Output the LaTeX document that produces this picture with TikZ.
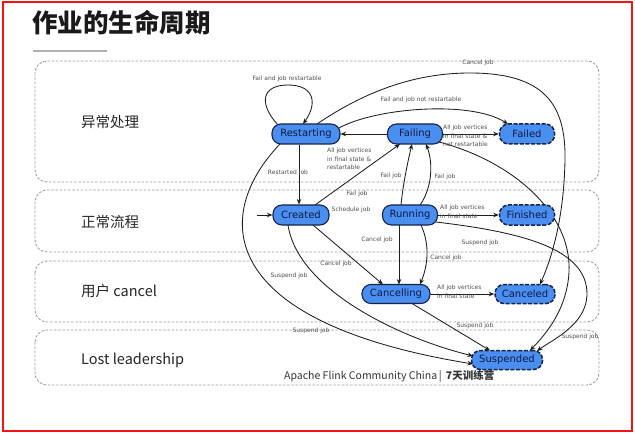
\documentclass[tikz,border=0pt]{standalone}
\usepackage{fontspec}
\setmainfont{DejaVu Sans}
\newfontfamily\cjk{Noto Sans CJK SC}
\usetikzlibrary{arrows.meta,calc}
\definecolor{stblue}{RGB}{74,142,240}
\definecolor{navy}{RGB}{22,36,74}
\definecolor{navytext}{RGB}{14,26,70}
\definecolor{edgec}{RGB}{30,30,30}
\definecolor{lblgray}{RGB}{80,80,80}
\definecolor{bandgray}{RGB}{160,160,160}
\definecolor{framered}{RGB}{240,20,20}
\definecolor{ruleg}{RGB}{175,175,175}
\pgfdeclarelayer{whitelayer}
\pgfdeclarelayer{bandlayer}
\pgfdeclarelayer{edgelayer}
\pgfsetlayers{whitelayer,bandlayer,edgelayer,main}
\tikzset{
  state/.style={draw=navy, line width=1.1pt, fill=stblue, rounded corners=9pt,
    minimum height=20pt, inner sep=0pt, text=navytext,
    font=\fontsize{10}{11}\selectfont},
  finalstate/.style={state, dash pattern=on 4pt off 1.6pt, line width=1.5pt},
  arr/.style={-{Stealth[length=5.5pt,width=4.5pt]}, line width=0.85pt, draw=edgec},
  lbl/.style={font=\fontsize{6}{8.4}\selectfont, text=lblgray, inner sep=0pt, align=left},
  band/.style={draw=bandgray, line width=0.9pt, dash pattern=on 2.6pt off 1.6pt, rounded corners=12pt},
  bandlabel/.style={anchor=west, font=\cjk\fontsize{14.5}{16}\selectfont, text=black!85, inner sep=0pt}
}
\begin{document}
\begin{tikzpicture}[x=1pt,y=-1pt]
\useasboundingbox (0,0) rectangle (635,433);
\begin{pgfonlayer}{whitelayer}
\fill[white] (0,0) rectangle (635,433);
\end{pgfonlayer}

% title
\node[anchor=west, inner sep=0pt, font=\cjk\bfseries\fontsize{25.5}{28}\selectfont, text=black!90] (title) at (32,23) {作业的生命周期};
\draw[ruleg, line width=2pt] (33,51) -- (107,51);

% bands
\begin{pgfonlayer}{bandlayer}
\draw[band] (35,61) rectangle (599,182);
\draw[band] (35,190) rectangle (599,252);
\draw[band] (35,261) rectangle (599,322);
\draw[band] (35,330) rectangle (599,385);
\end{pgfonlayer}

\node[bandlabel] (b1) at (81,122) {异常处理};
\node[bandlabel] (b2) at (81,222) {正常流程};
\node[bandlabel] (b3) at (81,291) {用户 cancel};
\node[bandlabel] (b4) at (81,360) {Lost leadership};

% states
\node[state, minimum width=68pt] (Restarting) at (306,134) {Restarting};
\node[state, minimum width=55pt] (Failing) at (415,134) {Failing};
\node[finalstate, minimum width=55pt] (Failed) at (527,134) {Failed};
\node[state, minimum width=56pt] (Created) at (301,215) {Created};
\node[state, minimum width=55pt] (Running) at (410,215) {Running};
\node[finalstate, minimum width=55pt] (Finished) at (527,215) {Finished};
\node[state, minimum width=68pt, minimum height=19pt] (Cancelling) at (396,294) {Cancelling};
\node[finalstate, minimum width=60pt, minimum height=19pt] (Canceled) at (525,294) {Canceled};
\node[finalstate, minimum width=71pt, minimum height=19pt] (Suspended) at (507,360) {Suspended};

\coordinate (init) at (257,215);

\begin{pgfonlayer}{edgelayer}
\draw[arr] (init) -- (Created);
% self loop
\draw[arr] ($(Restarting)+(-28,-9)$) .. controls (258,103) and (262,85) .. (288,85)
  .. controls (314,85) and (318,103) .. ($(Restarting)+(-3,-10)$);
\draw[arr] (Failing) -- (Restarting);
\draw[arr] ($(Restarting.south)+(-7,0)$) -- ($(Created.north)+(-2,0)$);
\draw[arr] ($(Created)+(14,-10)$) -- ($(Failing)+(-15,10)$);
\draw[arr] ($(Running)+(-9,-10)$) .. controls (403,185) and (407,165) .. ($(Failing)+(-3,10)$);
\draw[arr] ($(Running)+(10,-10)$) .. controls (431,190) and (434,165) .. ($(Failing)+(11,10)$);
\draw[arr] ($(Running)+(-11,10)$) -- ($(Cancelling)+(3,-9.5)$);
\draw[arr] ($(Running)+(11,10)$) .. controls (430,245) and (428,265) .. ($(Cancelling)+(24,-9.5)$);
\draw[arr] ($(Created)+(12,10)$) -- ($(Cancelling)+(-13,-9.5)$);
\draw[arr] ($(Created)+(-13,10)$) .. controls (298,290) and (400,338) .. ($(Suspended)+(-34,-4)$);
\draw[arr] ($(Restarting)+(-26,10)$) .. controls (212,215) and (215,322) .. ($(Suspended)+(-34,4)$);
\draw[arr] ($(Cancelling)+(16,9.5)$) -- ($(Suspended)+(-17,-9.5)$);
\draw[arr] ($(Restarting)+(33,-6)$) .. controls (375,108) and (470,100) .. ($(Failed)+(-19,-10)$);
\draw[arr] ($(Restarting)+(11,-10)$) .. controls (370,88) and (420,73) .. (470,73)
  .. controls (545,73) and (566,105) .. (565,160)
  .. controls (564,215) and (553,255) .. ($(Canceled)+(15,-9.5)$);
\draw[arr] (Failing) -- (Failed);
\draw[arr] (Running) -- (Finished);
\draw[arr] (Cancelling) -- (Canceled);
\draw[arr] ($(Failing)+(24,8)$) .. controls (515,162) and (572,215) .. (569,272)
  .. controls (567,310) and (545,335) .. ($(Suspended)+(23,-9.5)$);
\draw[arr] ($(Running)+(26,7)$) .. controls (520,232) and (588,248) .. (587,295)
  .. controls (586,325) and (552,340) .. ($(Suspended)+(30,-9)$);
\end{pgfonlayer}

% edge labels
\node[lbl] (l1) at (287,79) {Fail and job restartable};
\node[lbl] (l2) at (478,63) {Cancel job};
\node[lbl] (l3) at (421,100) {Fail and job not restartable};
\node[lbl, anchor=north west] (l4) at (443,125) {All job vertices\\in final state \&\\not restartable};
\node[lbl, anchor=north west] (l5) at (327,148) {All job vertices\\in final state \&\\restartable};
\node[lbl] (l6) at (288,173) {Restarted job};
\node[lbl] (l7) at (391,176) {Fail job};
\node[lbl] (l8) at (445,177) {Fail job};
\node[lbl] (l9) at (357,194) {Fail job};
\node[lbl] (l10) at (351,210) {Schedule job};
\node[lbl, anchor=north west] (l11) at (440,205) {All job vertices\\in final state};
\node[lbl] (l12) at (377,240) {Cancel job};
\node[lbl] (l13) at (480,243) {Suspend job};
\node[lbl] (l14) at (446,258) {Cancel job};
\node[lbl] (l15) at (336,264) {Cancel job};
\node[lbl] (l16) at (289,276) {Suspend job};
\node[lbl, anchor=north west] (l17) at (437,285) {All job vertices\\in final state};
\node[lbl] (l18) at (475,326) {Suspend job};
\node[lbl] (l19) at (311,331) {Suspend job};
\node[lbl] (l20) at (580,337) {Suspend job};

% footer
\node[anchor=west, inner sep=0pt, font=\cjk\fontsize{10.5}{12}\selectfont, text=black!80] (footer) at (284,376)
  {Apache Flink Community China\,|\, {\bfseries 7天训练营}};

% frame
\draw[framered, line width=2pt] (3,2) rectangle (632,431);
\end{tikzpicture}
\end{document}
